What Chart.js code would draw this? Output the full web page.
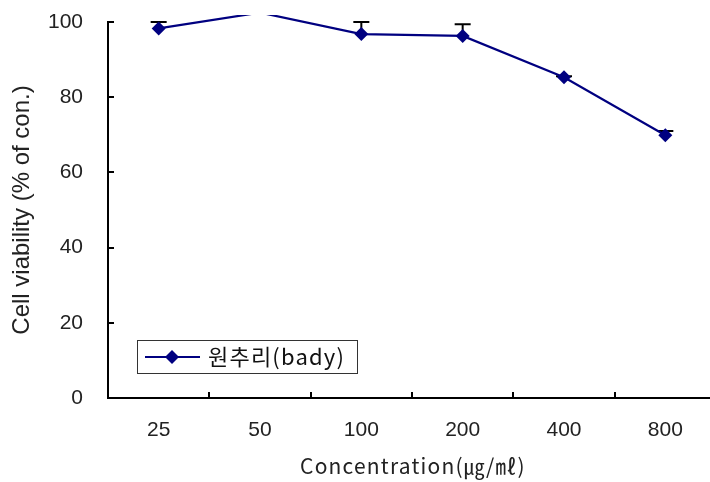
<!DOCTYPE html>
<html><head><meta charset="utf-8">
<script src="https://cdn.jsdelivr.net/npm/chart.js@4/dist/chart.umd.min.js"></script>
<style>
html,body{margin:0;padding:0;background:#fff;overflow:hidden;width:710px;height:482px}
#wrap{position:absolute;left:0;top:0;width:716px;height:482px}
</style>
</head><body><div id="wrap"><canvas id="c"></canvas></div>
<script>
const categories = ['25', '50', '100', '200', '400', '800'];
const viability = [98.3, 102.5, 96.8, 96.3, 85.3, 69.9];
const errorUp = [1.7, null, 3.2, 3.1, 0.3, 1.1];
const yTicks = [0, 20, 40, 60, 80, 100];
const seriesLabel = '원추리(bady)';
const xTitle = 'Concentration(㎍/㎖)';
const yTitle = 'Cell viability (% of con.)';

const NAVY = '#000080';
const Y_MAX = yTicks[yTicks.length - 1];

function diamond(ctx, x, y, r) {
  ctx.beginPath();
  ctx.moveTo(x, y - r); ctx.lineTo(x + r, y); ctx.lineTo(x, y + r); ctx.lineTo(x - r, y);
  ctx.closePath(); ctx.fill();
}

const errorBars = {
  id: 'errorBars',
  beforeDatasetsDraw(chart) {
    const {ctx, chartArea, scales: {x, y}} = chart;
    ctx.save();
    ctx.beginPath();
    ctx.rect(chartArea.left - 10, chartArea.top - 7, chartArea.right - chartArea.left + 20, chartArea.bottom - chartArea.top + 7);
    ctx.clip();
    ctx.strokeStyle = '#000'; ctx.lineWidth = 2;
    viability.forEach((v, i) => {
      const e = errorUp[i];
      if (e == null) return;
      const px = x.getPixelForValue(i), p0 = y.getPixelForValue(v), p1 = y.getPixelForValue(v + e);
      ctx.beginPath();
      ctx.moveTo(px, p0); ctx.lineTo(px, p1);
      ctx.moveTo(px - 8, p1); ctx.lineTo(px + 8, p1);
      ctx.stroke();
    });
    ctx.restore();
  }
};

const texts = {
  id: 'texts',
  afterDraw(chart) {
    const ctx = chart.ctx, ca = chart.chartArea;
    ctx.save();
    ctx.fillStyle = '#222';
    ctx.font = '21px "Noto Sans CJK KR"';
    ctx.letterSpacing = '1.2px';
    ctx.textAlign = 'center'; ctx.textBaseline = 'middle';
    ctx.fillText(xTitle, (ca.left + ca.right) / 2 + 1, 466);
    ctx.letterSpacing = '0px';
    ctx.strokeStyle = '#333'; ctx.lineWidth = 1;
    ctx.strokeRect(137.5, 340.5, 220, 33);
    ctx.strokeStyle = NAVY; ctx.lineWidth = 2;
    ctx.beginPath(); ctx.moveTo(145, 357); ctx.lineTo(200, 357); ctx.stroke();
    ctx.fillStyle = NAVY; diamond(ctx, 172, 357, 7);
    ctx.fillStyle = '#111';
    ctx.font = '22px "Noto Sans CJK KR"';
    ctx.letterSpacing = '1.2px';
    ctx.textAlign = 'left';
    ctx.fillText(chart.data.datasets[0].label, 208, 357);
    ctx.restore();
  }
};

new Chart(document.getElementById('c'), {
  type: 'line',
  data: {
    labels: categories,
    datasets: [{
      label: seriesLabel,
      data: viability,
      borderColor: NAVY,
      backgroundColor: NAVY,
      borderWidth: 2.2,
      pointStyle: 'rectRot',
      pointRadius: (c) => (c.raw > Y_MAX ? 0 : 7),
      pointBorderWidth: 0,
      tension: 0,
      clip: {left: 10, top: 7, right: 10, bottom: 10}
    }]
  },
  options: {
    responsive: true,
    maintainAspectRatio: false,
    animation: false,
    events: [],
    layout: {autoPadding: false, padding: {top: 22, left: 0, right: 0, bottom: 0}},
    plugins: {legend: {display: false}, tooltip: {enabled: false}},
    scales: {
      x: {
        type: 'category',
        offset: true,
        grid: {display: true, offset: true, drawOnChartArea: false, drawTicks: true, tickLength: -6, color: '#000', lineWidth: 2},
        border: {display: true, color: '#000', width: 2},
        ticks: {color: '#222', font: {family: '"Liberation Sans"', size: 21}, padding: 26, maxRotation: 0},
        title: {display: false, text: xTitle},
        afterFit(s) { s.height = 84; s.paddingLeft = 0; s.paddingRight = 0; }
      },
      y: {
        min: 0, max: Y_MAX,
        afterBuildTicks(s) { s.ticks = yTicks.map(v => ({value: v})); },
        grid: {display: true, drawOnChartArea: false, drawTicks: true, tickLength: -6, color: '#000', lineWidth: 2},
        border: {display: true, color: '#000', width: 2},
        ticks: {color: '#222', font: {family: '"Liberation Sans"', size: 21}, padding: 31},
        title: {display: true, text: yTitle, color: '#222', font: {family: '"Liberation Sans"', size: 24}, padding: {top: 8, bottom: 0}},
        afterFit(s) { s.width = 108; s.paddingTop = 12; s.paddingBottom = 12; }
      }
    }
  },
  plugins: [errorBars, texts]
});
</script>
</body></html>
